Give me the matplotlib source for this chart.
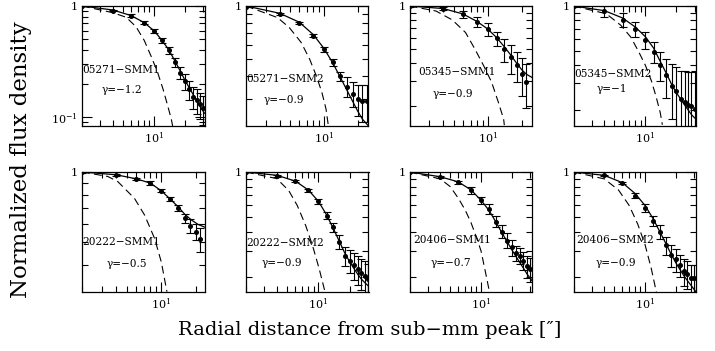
import numpy as np
import matplotlib
matplotlib.use("Agg")
import matplotlib.pyplot as plt
from matplotlib.ticker import FuncFormatter, NullFormatter, LogLocator

plt.rcParams['font.family'] = ['DejaVu Serif']
plt.rcParams['mathtext.fontset'] = 'dejavuserif'

# ---- datos ----
sources = ["05271\u2212SMM1", "05271\u2212SMM2", "05345\u2212SMM1", "05345\u2212SMM2",
           "20222\u2212SMM1", "20222\u2212SMM2", "20406\u2212SMM1", "20406\u2212SMM2"]
gammas = ["\u22121.2", "\u22120.9", "\u22120.9", "\u22121",
          "\u22120.5", "\u22120.9", "\u22120.7", "\u22120.9"]

r15 = [2, 4, 6, 8, 10, 12, 14, 16, 18, 20, 22, 24, 26, 28, 30]
r12 = [2, 4, 6, 8, 10, 12, 14, 16, 18, 20, 22, 24]
r11 = [2, 4, 6, 8, 10, 12, 14, 16, 18, 20, 22]
radius = [r15, r12, r11, r15, r11, r15, r15, r15]

flux = [
    [1.0, 0.91, 0.82, 0.71, 0.60, 0.49, 0.40, 0.31, 0.25, 0.21, 0.178, 0.153, 0.142, 0.131, 0.12],
    [0.99, 0.90, 0.80, 0.68, 0.57, 0.48, 0.40, 0.35, 0.32, 0.30, 0.29, 0.29],
    [1.0, 0.96, 0.875, 0.774, 0.689, 0.594, 0.50, 0.438, 0.387, 0.336, 0.294],
    [1.0, 0.92, 0.81, 0.70, 0.59, 0.49, 0.40, 0.34, 0.29, 0.265, 0.237, 0.224, 0.215, 0.211, 0.202],
    [1.0, 0.973, 0.935, 0.896, 0.832, 0.764, 0.698, 0.632, 0.586, 0.553, 0.514],
    [1.0, 0.94, 0.867, 0.755, 0.638, 0.514, 0.43, 0.345, 0.278, 0.258, 0.241, 0.227, 0.215, 0.205, 0.196],
    [1.0, 0.926, 0.858, 0.755, 0.648, 0.57, 0.469, 0.403, 0.351, 0.316, 0.290, 0.279, 0.258, 0.239, 0.227],
    [1.0, 0.949, 0.845, 0.698, 0.581, 0.473, 0.402, 0.327, 0.281, 0.263, 0.241, 0.22, 0.212, 0.197, 0.197],
]
flux_err = [
    [0.01, 0.015, 0.02, 0.02, 0.025, 0.025, 0.03, 0.03, 0.03, 0.035, 0.035, 0.035, 0.035, 0.035, 0.035],
    [0.005, 0.01, 0.01, 0.015, 0.02, 0.02, 0.025, 0.045, 0.05, 0.06, 0.07, 0.07],
    [0.01, 0.02, 0.045, 0.065, 0.07, 0.07, 0.09, 0.1, 0.09, 0.1, 0.1],
    [0.01, 0.08, 0.09, 0.08, 0.077, 0.08, 0.09, 0.1, 0.117, 0.12, 0.13, 0.14, 0.145, 0.15, 0.16],
    [0.005, 0.01, 0.012, 0.015, 0.015, 0.015, 0.02, 0.03, 0.04, 0.045, 0.06],
    [0.005, 0.01, 0.015, 0.015, 0.02, 0.025, 0.03, 0.035, 0.04, 0.045, 0.05, 0.05, 0.05, 0.05, 0.05],
    [0.005, 0.01, 0.02, 0.035, 0.033, 0.04, 0.04, 0.04, 0.04, 0.037, 0.035, 0.035, 0.035, 0.04, 0.04],
    [0.005, 0.01, 0.015, 0.03, 0.035, 0.035, 0.04, 0.045, 0.045, 0.045, 0.04, 0.045, 0.045, 0.045, 0.045],
]

# modelo (linea continua)
model_r = [
    [2, 4, 6, 8, 10, 12, 14, 16, 18, 20, 24, 28, 31],
    [2, 4, 6, 8, 10, 12, 14, 16, 18, 20, 22, 25],
    [2, 4, 6, 8, 10, 12, 14, 16, 18, 20, 22, 24.7],
    [2, 4, 6, 8, 10, 12, 14, 16, 18, 20, 24, 28, 31],
    [2, 4, 6, 8, 10, 12, 14, 16.1, 18.4, 21.1, 24],
    [2, 4, 6, 8, 10, 12, 14, 16, 18, 20, 22, 24, 26, 28, 30.5],
    [2, 4, 6, 8, 10, 12, 14, 16, 18, 20, 22, 24, 26, 28, 31.5],
    [2, 4, 6, 8, 10, 12, 14, 16, 18, 20, 22, 24, 26, 28, 31.5],
]
model_flux = [
    [1.0, 0.92, 0.82, 0.71, 0.60, 0.49, 0.40, 0.32, 0.26, 0.215, 0.16, 0.125, 0.108],
    [1.0, 0.91, 0.81, 0.69, 0.575, 0.475, 0.395, 0.335, 0.29, 0.255, 0.23, 0.21],
    [1.0, 0.96, 0.88, 0.78, 0.69, 0.60, 0.52, 0.455, 0.40, 0.36, 0.335, 0.318],
    [1.0, 0.93, 0.83, 0.72, 0.62, 0.52, 0.42, 0.35, 0.295, 0.26, 0.215, 0.185, 0.172],
    [1.0, 0.973, 0.935, 0.896, 0.83, 0.764, 0.71, 0.658, 0.622, 0.595, 0.58],
    [1.0, 0.95, 0.87, 0.76, 0.64, 0.52, 0.42, 0.345, 0.29, 0.255, 0.23, 0.21, 0.195, 0.185, 0.175],
    [1.0, 0.93, 0.86, 0.76, 0.65, 0.555, 0.465, 0.395, 0.345, 0.305, 0.275, 0.25, 0.23, 0.212, 0.19],
    [1.0, 0.95, 0.85, 0.72, 0.60, 0.49, 0.40, 0.335, 0.285, 0.25, 0.225, 0.205, 0.19, 0.178, 0.16],
]

# haz (linea discontinua)
beam_r = [
    [2, 4, 5.4, 6.7, 8.05, 9.3, 10.8, 12.2, 13.4, 14.7, 15.2],
    [2, 3.83, 4.88, 6.23, 7.42, 8.51, 9.55, 10.4, 10.9],
    [2, 3.44, 4.81, 6.31, 7.67, 9.17, 10.8, 12.4, 13.8, 14.0],
    [2, 4.16, 5.78, 7.2, 8.63, 10, 11.4, 12.6, 13.9, 14.6],
    [2, 3.37, 4.13, 5.8, 7.12, 8.72, 10, 10.8, 11.2],
    [2, 3.96, 5.16, 6.25, 7.55, 8.8, 10.2, 11.6],
    [2, 4, 5, 6, 7, 8, 9, 10, 11, 12.1],
    [2, 4, 5.5, 7, 8.5, 10, 11.5, 12.9],
]
beam_flux = [
    [1.0, 0.87, 0.79, 0.65, 0.49, 0.36, 0.256, 0.181, 0.133, 0.097, 0.083],
    [1.0, 0.86, 0.756, 0.623, 0.502, 0.404, 0.326, 0.263, 0.213],
    [1.0, 0.923, 0.80, 0.654, 0.50, 0.383, 0.294, 0.213, 0.163, 0.148],
    [1.0, 0.887, 0.74, 0.617, 0.489, 0.397, 0.314, 0.249, 0.192, 0.158],
    [1.0, 0.957, 0.91, 0.77, 0.653, 0.518, 0.41, 0.336, 0.306],
    [1.0, 0.904, 0.755, 0.60, 0.441, 0.324, 0.227, 0.16],
    [1.0, 0.90, 0.80, 0.67, 0.56, 0.46, 0.37, 0.30, 0.22, 0.16],
    [1.0, 0.90, 0.76, 0.60, 0.45, 0.33, 0.23, 0.16],
]

# limites de los ejes de cada panel
x_max = [31, 25, 24.7, 31, 24, 30.5, 31.5, 31.5]
y_min = [0.083, 0.21, 0.146, 0.155, 0.305, 0.16, 0.16, 0.16]

# posicion de las etiquetas (fraccion del eje)
name_pos = [(0.0, 0.47), (0.0, 0.39), (0.07, 0.45), (0.01, 0.43),
            (0.0, 0.42), (0.0, 0.41), (0.03, 0.43), (0.02, 0.43)]
gamma_pos = [(0.16, 0.30), (0.14, 0.22), (0.19, 0.27), (0.19, 0.31),
             (0.20, 0.23), (0.125, 0.24), (0.17, 0.24), (0.18, 0.24)]


def fmt_log(v, pos):
    if np.isclose(v, 1.0):
        return "1"
    return r"$10^{%d}$" % int(round(np.log10(v)))


W, H = 715, 351
fig = plt.figure(figsize=(W / 100, H / 100), dpi=100)

lefts = [82, 246, 409.5, 573.5]
tops = [6, 172]
aw, ah = 122.5, 120

for i in range(8):
    row, col = divmod(i, 4)
    ax = fig.add_axes([lefts[col] / W, (H - tops[row] - ah) / H, aw / W, ah / H])
    ax.set_xscale('log')
    ax.set_yscale('log')

    ax.plot(model_r[i], model_flux[i], color='black', lw=0.9)
    ax.plot(beam_r[i], beam_flux[i], color='black', lw=0.8, dashes=(7, 4))
    ax.errorbar(radius[i], flux[i], yerr=flux_err[i], fmt='o', color='black',
                ms=2.6, elinewidth=0.8, capsize=2.6, capthick=0.8)

    ax.set_xlim(2, x_max[i])
    ax.set_ylim(y_min[i], 1.0)

    ax.xaxis.set_major_locator(LogLocator(base=10))
    ax.yaxis.set_major_locator(LogLocator(base=10))
    ax.xaxis.set_major_formatter(FuncFormatter(fmt_log))
    ax.yaxis.set_major_formatter(FuncFormatter(fmt_log))
    ax.xaxis.set_minor_formatter(NullFormatter())
    ax.yaxis.set_minor_formatter(NullFormatter())
    ax.tick_params(which='both', direction='in', top=True, right=True,
                   labelsize=8, width=0.8, pad=3)
    ax.tick_params(which='major', length=7)
    ax.tick_params(which='minor', length=4)
    for s in ax.spines.values():
        s.set_linewidth(0.9)

    ax.text(name_pos[i][0], name_pos[i][1], sources[i], transform=ax.transAxes,
            fontsize=7.6, ha='left', va='center')
    ax.text(gamma_pos[i][0], gamma_pos[i][1], "\u03b3=" + gammas[i], transform=ax.transAxes,
            fontsize=7.6, ha='left', va='center')

fig.text(21 / W, 1 - 160 / H, "Normalized flux density", rotation=90,
         ha='center', va='center', fontsize=16.5)
fig.text(370 / W, 1 - 330 / H, "Radial distance from sub\u2212mm peak [\u2033]",
         ha='center', va='center', fontsize=14)

fig.savefig("out.png", dpi=100)
